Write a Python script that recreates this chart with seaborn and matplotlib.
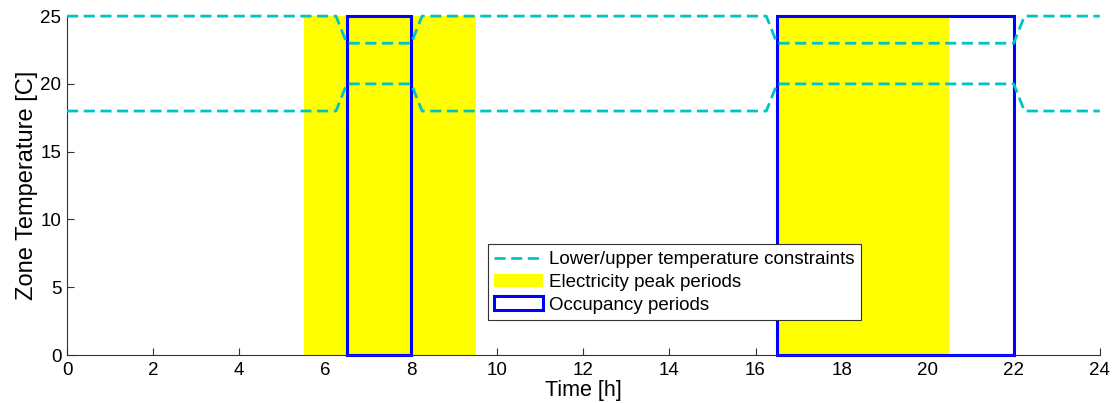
import matplotlib
matplotlib.use("Agg")
import pandas as pd
import seaborn as sns
import matplotlib.pyplot as plt

# Temperature constraint profile (hours, degC)
time_h = [0, 6.25, 6.5, 8, 8.25, 16.25, 16.5, 22, 22.25, 24]
lower_c = [18, 18, 20, 20, 18, 18, 20, 20, 18, 18]
upper_c = [25, 25, 23, 23, 25, 25, 23, 23, 25, 25]

# Electricity peak periods (start, end)
peak_start = [5.5, 16.5]
peak_end = [9.5, 20.5]

# Occupancy periods (start, end)
occ_start = [6.5, 16.5]
occ_end = [8, 22]

y_top = 25
x_ticks = list(range(0, 25, 2))
y_ticks = [0, 5, 10, 15, 20, 25]

df = pd.DataFrame({'Time': time_h, 'Lower': lower_c, 'Upper': upper_c})

sns.set_style("ticks")
plt.rcParams['font.family'] = ['Liberation Sans', 'DejaVu Sans']

fig = plt.figure(figsize=(11.12, 4.03), dpi=100)
ax = fig.add_axes([0.0603, 0.119, 0.9287, 0.841])

# yellow peak periods
ax.bar(peak_start, [y_top] * len(peak_start),
       width=[e - s for s, e in zip(peak_start, peak_end)],
       align='edge', color='#FFFF00', edgecolor='none', linewidth=0,
       label='Electricity peak periods', zorder=1)

# constraint lines
cyan = '#00C4C4'
sns.lineplot(data=df, x='Time', y='Lower', ax=ax, color=cyan, lw=2,
             linestyle=(0, (4, 2)), label='Lower/upper temperature constraints', zorder=3)
sns.lineplot(data=df, x='Time', y='Upper', ax=ax, color=cyan, lw=2,
             linestyle=(0, (4, 2)), zorder=3, clip_on=False)

# occupancy boxes
ax.bar(occ_start, [y_top] * len(occ_start),
       width=[e - s for s, e in zip(occ_start, occ_end)],
       align='edge', facecolor='none', edgecolor='#0000FF', linewidth=2.2,
       label='Occupancy periods', zorder=2, clip_on=False)

ax.set_xlim(0, 24)
ax.set_ylim(0, 25)
ax.set_xticks(x_ticks)
ax.set_yticks(y_ticks)
ax.tick_params(direction='in', length=5, labelsize=13.5, color='#333333',
               labelcolor='black', width=0.8)
ax.tick_params(axis='x', pad=5)
ax.tick_params(axis='y', pad=4)
ax.set_xlabel('Time [h]', fontsize=15.5, labelpad=1, color='black')
ax.set_ylabel('Zone Temperature [C]', fontsize=17, labelpad=2, color='black')
sns.despine(ax=ax)
for s in ['left', 'bottom']:
    ax.spines[s].set_color('#333333')
    ax.spines[s].set_linewidth(0.8)

handles, labels = ax.get_legend_handles_labels()
order = [labels.index('Lower/upper temperature constraints'),
         labels.index('Electricity peak periods'),
         labels.index('Occupancy periods')]
leg = ax.legend([handles[i] for i in order], [labels[i] for i in order],
                loc='lower left', bbox_to_anchor=(0.4075, 0.103),
                fontsize=13.5, fancybox=False, framealpha=1, edgecolor='#333333',
                borderpad=0.35, labelspacing=0.3, handlelength=2.6,
                handletextpad=0.3, borderaxespad=0)
leg.get_frame().set_linewidth(0.8)
for t in leg.get_texts():
    t.set_color('black')

fig.savefig('out.png', dpi=100)
